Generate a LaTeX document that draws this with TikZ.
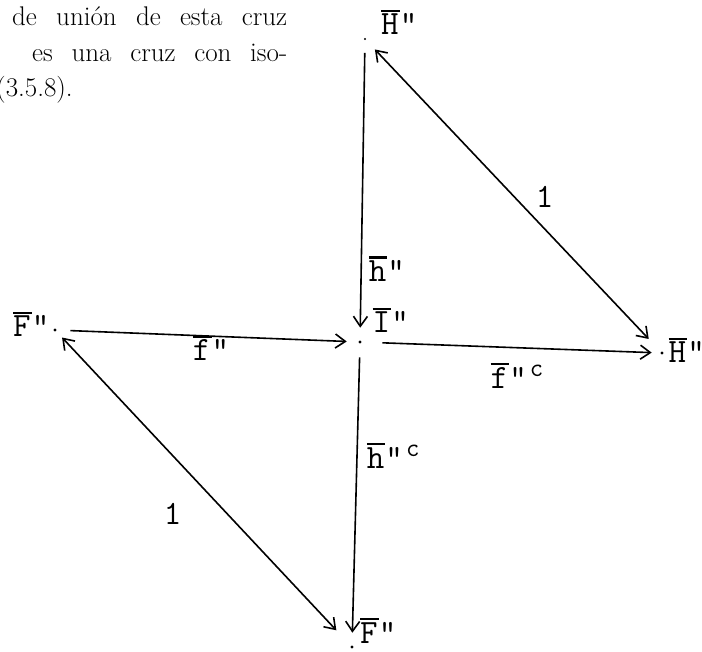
\documentclass[tikz,border=0pt]{standalone}
\usepackage{fontspec}
\usetikzlibrary{arrows.meta}
\newcommand{\bartt}[1]{\ooalign{#1\cr\hfil\rule[.68em]{.55em}{2.2pt}\hfil\cr}}
\newcommand{\supc}[1]{\kern#1\raisebox{12pt}{\fontsize{26}{26}\selectfont c}}

\begin{document}
\begin{tikzpicture}[x=1pt, y=-1pt, >={Straight Barb[length=10pt,width=14pt]},
  every node/.style={inner sep=0pt},
  lab/.style={font=\fontsize{34}{34}\selectfont\ttfamily, anchor=base west},
  prose/.style={font=\fontsize{27}{32}\selectfont, anchor=base west},
  pt/.style={circle, fill, minimum size=3.4pt},
  arr/.style={line width=1.6pt}]
 \useasboundingbox (0,0) rectangle (702,652);
 % running text of the page
 \node[prose] (line1) at (12,26) {\makebox[275pt][s]{de unión de esta cruz}};
 \node[prose] (line2) at (32,62) {\makebox[255pt][s]{es una cruz con iso-}};
 \node[prose] (line3) at (-4,97) {(3.5.8).};
 % points of the cross
 \node[pt, minimum size=2.4pt] (htop) at (365,39) {};
 \node[pt] (inode) at (360,342) {};
 \node[pt] (fleft) at (55,330) {};
 \node[pt] (hright) at (662,353) {};
 \node[pt] (fbot) at (352,647) {};
 \node[lab] (htoplab) at (381,35) {\bartt{H}"};
 \node[lab] (ilab) at (372.5,333) {\bartt{I}"};
 \node[lab] (fleftlab) at (13,337) {\bartt{F}"};
 \node[lab] (hrightlab) at (668.5,363) {\bartt{H}"};
 \node[lab] (fbotlab) at (360,643) {\bartt{F}"};
 % arrows
 \draw[->,arr,shorten <=12.4pt,shorten >=12.4pt] (htop) -- node[lab,pos=.805,xshift=7pt] {\bartt{h}"} (inode);
 \draw[->,arr,shorten <=13.4pt,shorten >=11.4pt] (fleft) -- node[lab,pos=.449,yshift=-25.6pt] {\bartt{f}"} (inode);
 \draw[->,arr,shorten <=20.4pt,shorten >=8.4pt] (inode) -- node[lab,pos=.429,yshift=-41.3pt] {\bartt{f}"\supc{3pt}} (hright);
 \draw[->,arr,shorten <=13.4pt,shorten >=12.4pt] (inode) -- node[lab,pos=.413,xshift=9.3pt] {\bartt{h}"\supc{3pt}} (fbot);
 \draw[<->,arr,shorten <=13pt,shorten >=17.4pt] (htop) -- node[lab,anchor=base,pos=.538,xshift=20pt] {1} (hright);
 \draw[<->,arr,shorten <=8.4pt,shorten >=21pt] (fleft) -- node[lab,anchor=base,pos=.615,xshift=-64.7pt] {1} (fbot);
\end{tikzpicture}
\end{document}
